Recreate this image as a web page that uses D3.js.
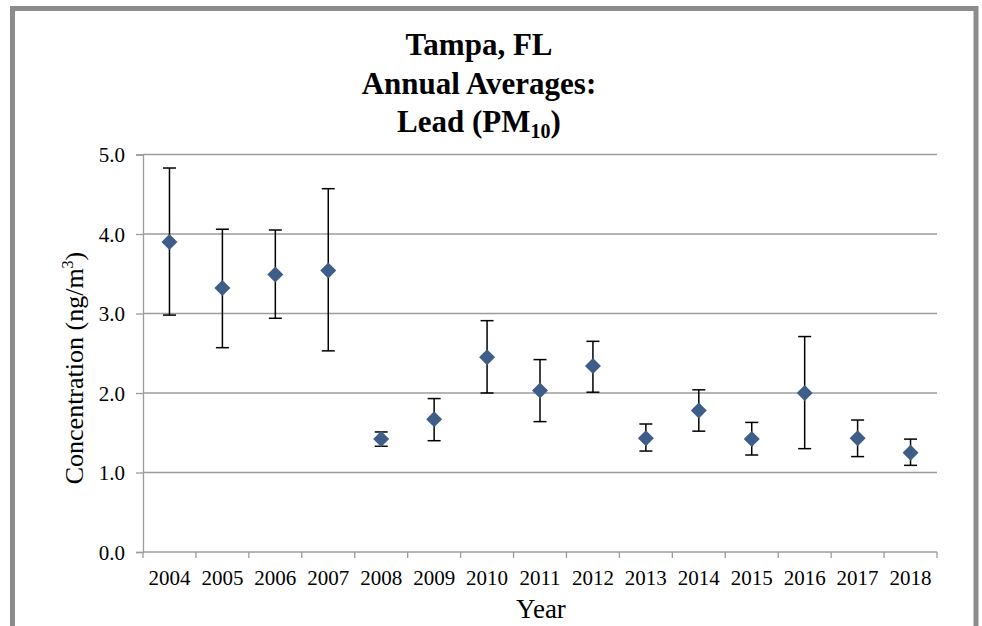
<!DOCTYPE html>
<meta charset="utf-8">
<head>
  <title>Tampa, FL Annual Averages: Lead (PM10)</title>
  <script src="https://cdn.jsdelivr.net/npm/d3@7"></script>
  <style>
    body { margin: 0; background: #fff; }
    .grid line { stroke: #9c9c9c; stroke-width: 1.3; }
    .axis path, .axis line { stroke: #9c9c9c; stroke-width: 1.3; }
  </style>
</head>
<body>
<div id="chart"></div>
<script>
  // values
  var years = ["2004","2005","2006","2007","2008","2009","2010","2011","2012","2013","2014","2015","2016","2017","2018"];
  var means = [3.90, 3.32, 3.49, 3.54, 1.42, 1.67, 2.45, 2.03, 2.34, 1.43, 1.78, 1.42, 2.00, 1.43, 1.25];
  var upper = [4.83, 4.06, 4.05, 4.57, 1.51, 1.93, 2.91, 2.42, 2.65, 1.61, 2.04, 1.63, 2.71, 1.66, 1.42];
  var lower = [2.98, 2.57, 2.94, 2.53, 1.33, 1.40, 2.00, 1.64, 2.01, 1.27, 1.52, 1.22, 1.30, 1.20, 1.09];
  var yTicks = [0, 1, 2, 3, 4, 5];

  var FONT = "'Liberation Serif', 'Times New Roman', 'DejaVu Serif', serif";
  var w = 982, h = 626;
  var margin = {left: 143, right: 45, top: 154.5, bottom: 74};

  var svg = d3.select("#chart").append("svg")
      .attr("width", w).attr("height", h)
      .style("font-family", FONT);

  // outer frame
  svg.append("rect")
      .attr("x", 12.5).attr("y", 8.5)
      .attr("width", 963.5).attr("height", 660)
      .attr("fill", "none").attr("stroke", "#8c8c8c").attr("stroke-width", 5);

  var x = d3.scaleBand().domain(years).range([margin.left, w - margin.right]).padding(0);
  var y = d3.scaleLinear().domain([0, 5]).range([h - margin.bottom, margin.top]);

  // gridlines
  svg.append("g").attr("class", "grid")
    .selectAll("line").data(yTicks.filter(d => d > 0)).enter()
    .append("line")
      .attr("x1", margin.left).attr("x2", w - margin.right)
      .attr("y1", d => y(d)).attr("y2", d => y(d));

  // y axis
  var yAxis = svg.append("g").attr("class", "axis")
      .attr("transform", "translate(" + margin.left + ",0)")
      .call(d3.axisLeft(y).tickValues(yTicks).tickFormat(d3.format(".1f")).tickSizeOuter(0).tickSize(7).tickPadding(11));
  yAxis.attr("font-family", null).attr("font-size", null);
  yAxis.selectAll("text").attr("dy", "0.35em")
      .style("font-family", FONT).style("font-size", "21px").attr("fill", "#000");

  // x axis, ticks on category boundaries
  var xAxis = svg.append("g").attr("class", "axis")
      .attr("transform", "translate(0," + y(0) + ")");
  xAxis.append("line")
      .attr("x1", margin.left).attr("x2", w - margin.right);
  var bounds = years.map(d => x(d)).concat([x(years[years.length - 1]) + x.bandwidth()]);
  xAxis.selectAll(".tk").data(bounds).enter().append("line")
      .attr("class", "tk")
      .attr("x1", d => d).attr("x2", d => d)
      .attr("y1", 0).attr("y2", 6);
  xAxis.selectAll(".lbl").data(years).enter().append("text")
      .attr("class", "lbl")
      .attr("x", d => x(d) + x.bandwidth() / 2)
      .attr("y", 33)
      .attr("text-anchor", "middle")
      .style("font-family", FONT).style("font-size", "21px")
      .text(d => d);

  // error bars
  var eb = svg.append("g");
  years.forEach(function(yr, i) {
    var cx = x(yr) + x.bandwidth() / 2;
    eb.append("line").attr("x1", cx).attr("x2", cx)
      .attr("y1", y(upper[i])).attr("y2", y(lower[i]))
      .attr("stroke", "#000").attr("stroke-width", 1.5);
    [upper[i], lower[i]].forEach(function(v) {
      eb.append("line").attr("x1", cx - 6.5).attr("x2", cx + 6.5)
        .attr("y1", y(v)).attr("y2", y(v))
        .attr("stroke", "#000").attr("stroke-width", 1.5);
    });
  });

  // diamonds
  svg.append("g").selectAll("path").data(means).enter()
    .append("path")
      .attr("transform", (d, i) => "translate(" + (x(years[i]) + x.bandwidth() / 2) + "," + y(d) + ")")
      .attr("d", "M0,-8L8,0L0,8L-8,0Z")
      .attr("fill", "#3f5d89");

  // title
  var title = svg.append("text")
      .attr("text-anchor", "middle")
      .style("font-family", FONT)
      .style("font-weight", "bold")
      .style("font-size", "31px");
  title.append("tspan").attr("x", 479).attr("y", 55).text("Tampa, FL");
  title.append("tspan").attr("x", 479).attr("y", 94).text("Annual Averages:");
  var l3 = title.append("tspan").attr("x", 479).attr("y", 132);
  l3.append("tspan").text("Lead (PM");
  l3.append("tspan").style("font-size", "20px").attr("dy", 6).text("10");
  l3.append("tspan").attr("dy", -6).text(")");

  // axis titles
  svg.append("text")
      .attr("x", x(years[7]) + x.bandwidth() / 2 + 1)
      .attr("y", 618)
      .attr("text-anchor", "middle")
      .style("font-family", FONT).style("font-size", "27px")
      .text("Year");

  var yt = svg.append("text")
      .attr("transform", "translate(83," + 368 + ") rotate(-90)")
      .attr("text-anchor", "middle")
      .style("font-family", FONT).style("font-size", "26px");
  yt.append("tspan").text("Concentration (ng/m");
  yt.append("tspan").style("font-size", "16px").attr("dy", -10).text("3");
  yt.append("tspan").attr("dy", 10).text(")");
</script>
</body>
</html>
